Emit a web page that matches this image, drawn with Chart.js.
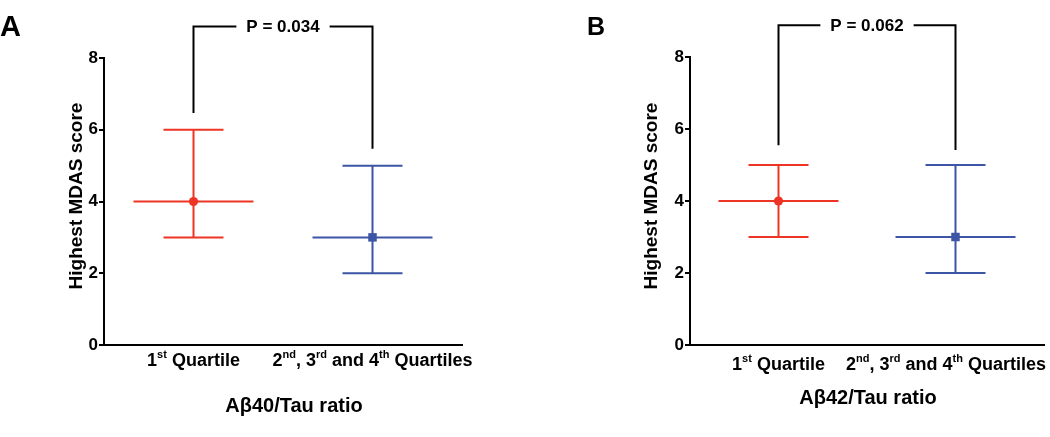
<!DOCTYPE html>
<html>
<head>
<meta charset="utf-8">
<script src="https://cdn.jsdelivr.net/npm/chart.js@4.4.1/dist/chart.umd.min.js"></script>
<style>
    html, body { margin: 0; padding: 0; background: #fff; }
    #wrap { position: relative; width: 1050px; height: 437px; overflow: hidden; }
    canvas { position: absolute; top: 0; }
</style>
</head>
<body>
<div id="wrap">
    <canvas id="chart-a" width="560" height="437" style="left:0"></canvas>
    <canvas id="chart-b" width="490" height="437" style="left:560px"></canvas>
</div>
<script>
const categories = ['1<sup>st</sup> Quartile', '2<sup>nd</sup>, 3<sup>rd</sup> and 4<sup>th</sup> Quartiles']
const yTicks = [0, 2, 4, 6, 8]

// panel A - Aβ40/Tau ratio
const medianA = [4, 3]
const lowerA = [3, 2]
const upperA = [6, 5]
const pValueA = 'P = 0.034'
const bracketLegsA = [6.47, 5.47]

// panel B - Aβ42/Tau ratio
const medianB = [4, 3]
const lowerB = [3, 2]
const upperB = [5, 5]
const pValueB = 'P = 0.062'
const bracketLegsB = [5.55, 5.42]

const bracketTop = 8.88

const FONT = '"Liberation Sans", Arial, Helvetica, sans-serif'
const RED = '#ee3424'
const BLUE = '#3c55a5'

// draws "1<sup>st</sup> ..." centred on cx
function drawRich(ctx, str, cx, baseline, size, maxRight) {
    const parts = str.split(/<sup>|<\/sup>/)
    const supSize = Math.round(size * 0.62)
    let total = 0
    parts.forEach((p, i) => {
        ctx.font = 'bold ' + (i % 2 ? supSize : size) + 'px ' + FONT
        total += ctx.measureText(p).width
    })
    let x = cx - total / 2
    if (maxRight && x + total > maxRight) x = maxRight - total
    ctx.textAlign = 'left'
    ctx.textBaseline = 'alphabetic'
    parts.forEach((p, i) => {
        const sup = i % 2 === 1
        ctx.font = 'bold ' + (sup ? supSize : size) + 'px ' + FONT
        ctx.fillText(p, x, sup ? baseline - size * 0.42 : baseline)
        x += ctx.measureText(p).width
    })
}

const panelPlugin = {
    id: 'panel',
    beforeDatasetsDraw(chart, args, opts) {
        const ctx = chart.ctx
        const xs = chart.scales.x
        const ys = chart.scales.y
        ctx.save()
        ctx.lineWidth = 2
        chart.data.datasets.forEach(ds => {
            const pt = ds.data[0]
            const x = xs.getPixelForValue(pt.x)
            const yMed = ys.getPixelForValue(pt.y)
            const yLo = ys.getPixelForValue(ds.lower)
            const yHi = ys.getPixelForValue(ds.upper)
            ctx.strokeStyle = ds.borderColor
            ctx.beginPath()
            ctx.moveTo(x, yLo); ctx.lineTo(x, yHi)
            ctx.moveTo(x - 30, yLo); ctx.lineTo(x + 30, yLo)
            ctx.moveTo(x - 30, yHi); ctx.lineTo(x + 30, yHi)
            ctx.moveTo(x - 60, yMed); ctx.lineTo(x + 60, yMed)
            ctx.stroke()
        })
        ctx.restore()
    },
    afterDraw(chart, args, opts) {
        const ctx = chart.ctx
        const xs = chart.scales.x
        const ys = chart.scales.y
        ctx.save()
        ctx.fillStyle = '#000'
        ctx.strokeStyle = '#000'

        // panel letter
        ctx.font = 'bold ' + opts.letterSize + 'px ' + FONT
        ctx.textAlign = 'left'
        ctx.textBaseline = 'alphabetic'
        ctx.fillText(opts.letter, opts.letterX, opts.letterY)

        // category labels
        categories.forEach((c, i) => {
            drawRich(ctx, c, xs.getPixelForValue(i + 0.5), opts.labelY, 18, chart.width - 4)
        })

        // axis titles
        ctx.font = 'bold 20px ' + FONT
        ctx.textAlign = 'center'
        ctx.fillText(opts.xTitle, opts.xTitleX, opts.xTitleY)

        ctx.save()
        ctx.translate(opts.yTitleX, 196)
        ctx.rotate(-Math.PI / 2)
        ctx.font = 'bold 19px ' + FONT
        ctx.textBaseline = 'middle'
        ctx.fillText('Highest MDAS score', 0, 0)
        ctx.restore()

        // significance bracket
        const x1 = xs.getPixelForValue(0.5)
        const x2 = xs.getPixelForValue(1.5)
        const yTop = ys.getPixelForValue(bracketTop)
        ctx.font = 'bold 17px ' + FONT
        const tw = ctx.measureText(opts.pValue).width
        const mid = (x1 + x2) / 2
        ctx.lineWidth = 2
        ctx.beginPath()
        ctx.moveTo(x1, ys.getPixelForValue(opts.legs[0]))
        ctx.lineTo(x1, yTop)
        ctx.lineTo(mid - tw / 2 - 10, yTop)
        ctx.moveTo(mid + tw / 2 + 10, yTop)
        ctx.lineTo(x2, yTop)
        ctx.lineTo(x2, ys.getPixelForValue(opts.legs[1]))
        ctx.stroke()
        ctx.textAlign = 'center'
        ctx.textBaseline = 'middle'
        ctx.fillText(opts.pValue, mid, yTop + 1)
        ctx.restore()
    }
}

function makeChart(id, median, lower, upper, pad, axisLeft, panel) {
    const datasets = median.map((m, i) => ({
        data: [{ x: i + 0.5, y: m }],
        lower: lower[i],
        upper: upper[i],
        borderColor: i === 0 ? RED : BLUE,
        backgroundColor: i === 0 ? RED : BLUE,
        pointStyle: i === 0 ? 'circle' : 'rect',
        pointRadius: i === 0 ? 4.6 : 6,
        pointBorderWidth: 0
    }))

    return new Chart(document.getElementById(id).getContext('2d'), {
        type: 'scatter',
        data: { datasets },
        plugins: [panelPlugin],
        options: {
            responsive: false,
            animation: false,
            events: [],
            layout: { padding: pad },
            scales: {
                x: {
                    type: 'linear',
                    min: 0,
                    max: 2,
                    ticks: { display: false },
                    grid: { display: false },
                    border: { display: true, color: '#000', width: 2 },
                    afterFit: s => { s.height = 0 }
                },
                y: {
                    min: 0,
                    max: 8,
                    afterBuildTicks: s => { s.ticks = yTicks.map(v => ({ value: v })) },
                    ticks: {
                        color: '#000',
                        padding: 1,
                        font: { family: FONT, size: 17, weight: 'bold' }
                    },
                    grid: { display: true, drawOnChartArea: false, drawTicks: true, tickLength: 5, color: '#000', lineWidth: 2 },
                    border: { display: true, color: '#000', width: 2 },
                    afterFit: s => { s.width = axisLeft }
                }
            },
            plugins: {
                legend: { display: false },
                tooltip: { enabled: false },
                panel
            }
        }
    })
}

makeChart('chart-a', medianA, lowerA, upperA, { top: 58, right: 98, bottom: 92, left: 0 }, 104, {
    letter: 'A', letterSize: 29, letterX: 0, letterY: 36,
    labelY: 366, xTitle: 'Aβ40/Tau ratio', xTitleX: 294, xTitleY: 412, yTitleX: 77,
    pValue: pValueA, legs: bracketLegsA
})

makeChart('chart-b', medianB, lowerB, upperB, { top: 57, right: 0, bottom: 92, left: 0 }, 130, {
    letter: 'B', letterSize: 25, letterX: 27, letterY: 35,
    labelY: 370, xTitle: 'Aβ42/Tau ratio', xTitleX: 308, xTitleY: 404, yTitleX: 92,
    pValue: pValueB, legs: bracketLegsB
})
</script>
</body>
</html>
